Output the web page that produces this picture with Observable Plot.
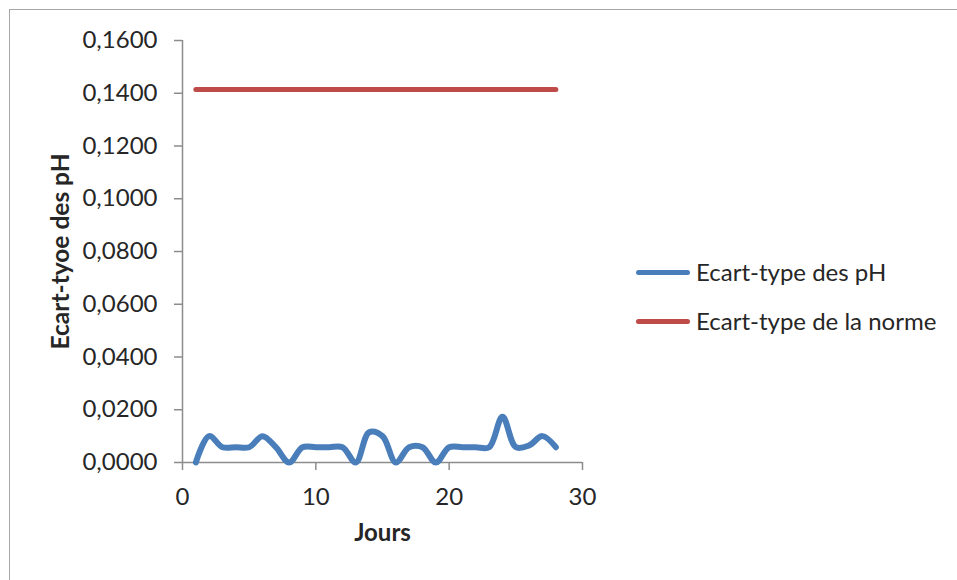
<!DOCTYPE html>
<html lang="fr">
<head>
<meta charset="utf-8">
<script src="https://cdn.jsdelivr.net/npm/d3@7"></script>
<script src="https://cdn.jsdelivr.net/npm/@observablehq/plot@0.6"></script>
<style>
  html, body { margin: 0; padding: 0; background: #fff; }
  #wrap { position: relative; width: 957px; height: 580px; overflow: hidden; font-family: Lato, "Open Sans", sans-serif; color: #262626; }
  #frame { position: absolute; left: 9px; top: 9px; right: -10px; bottom: -10px; border-left: 1.5px solid #a6a6a6; border-top: 1.5px solid #a6a6a6; }
  #chart { position: absolute; left: 0; top: 0; }
  .key { position: absolute; left: 636px; width: 54px; height: 5px; border-radius: 3px; }
  .keytext { position: absolute; left: 696px; font-size: 24px; line-height: 1.2; white-space: nowrap; }
</style>
</head>
<body>
<div id="wrap">
  <div id="frame"></div>
  <div id="chart"></div>
  <div class="key" style="top:270px; background:#4a7ebb"></div>
  <div class="keytext" style="top:258px">Ecart-type des pH</div>
  <div class="key" style="top:318.5px; background:#be4b48"></div>
  <div class="keytext" style="top:307px">Ecart-type de la norme</div>
</div>
<script>
// Jours de mesure
const jours = [1, 2, 3, 4, 5, 6, 7, 8, 9, 10, 11, 12, 13, 14, 15, 16, 17, 18, 19, 20, 21, 22, 23, 24, 25, 26, 27, 28];
// Ecart-type journalier des pH
const ecartTypePH = [0, 0.0100, 0.0058, 0.0058, 0.0058, 0.0100, 0.0058, 0, 0.0058, 0.0058, 0.0058, 0.0058, 0, 0.0115, 0.0100, 0, 0.0058, 0.0058, 0, 0.0058, 0.0058, 0.0058, 0.0058, 0.0173, 0.0058, 0.0065, 0.0100, 0.0058];
// Ecart-type admis par la norme (constant)
const ecartTypeNorme = 0.1414;
// Graduations
const yTicks = [0, 0.02, 0.04, 0.06, 0.08, 0.10, 0.12, 0.14, 0.16];
const xTicks = [0, 10, 20, 30];

const serie = jours.map((j, i) => ({jour: j, sd: ecartTypePH[i]}));
const norme = jours.map(j => ({jour: j, sd: ecartTypeNorme}));
const virgule = d => d3.format(".4f")(d).replace(".", ",");
const axisGray = "#8c8c8c";

const chart = Plot.plot({
  width: 620,
  height: 560,
  marginLeft: 182,
  marginRight: 38,
  marginTop: 40,
  marginBottom: 98,
  style: {fontFamily: "Lato, 'Open Sans', sans-serif", fontSize: "24px", color: "#262626", background: "transparent"},
  x: {domain: [0, 30]},
  y: {domain: [0, 0.16]},
  marks: [
    Plot.axisY({ticks: yTicks, tickFormat: virgule, tickSize: 8, tickPadding: 17, stroke: axisGray, strokeWidth: 1.5, fill: "#262626", fontSize: 24, label: null}),
    Plot.axisX({ticks: xTicks, tickFormat: d => String(d), tickSize: 8, tickPadding: 17, stroke: axisGray, strokeWidth: 1.5, fill: "#262626", fontSize: 24, label: null}),
    Plot.ruleX([0], {stroke: axisGray, strokeWidth: 1.5}),
    Plot.ruleY([0], {stroke: axisGray, strokeWidth: 1.5}),
    Plot.line(norme, {x: "jour", y: "sd", stroke: "#be4b48", strokeWidth: 5, strokeLinecap: "round"}),
    Plot.line(serie, {x: "jour", y: "sd", stroke: "#4a7ebb", strokeWidth: 6, curve: "catmull-rom", strokeLinecap: "round", strokeLinejoin: "round"}),
    Plot.text(["Jours"], {frameAnchor: "bottom", dy: 78, fontWeight: "bold", fontSize: 24, fill: "#262626"}),
    Plot.text(["Ecart-tyoe des pH"], {frameAnchor: "left", textAnchor: "middle", dx: -121, rotate: -90, fontWeight: "bold", fontSize: 24.5, fill: "#262626"})
  ]
});
document.getElementById("chart").appendChild(chart);
</script>
</body>
</html>
